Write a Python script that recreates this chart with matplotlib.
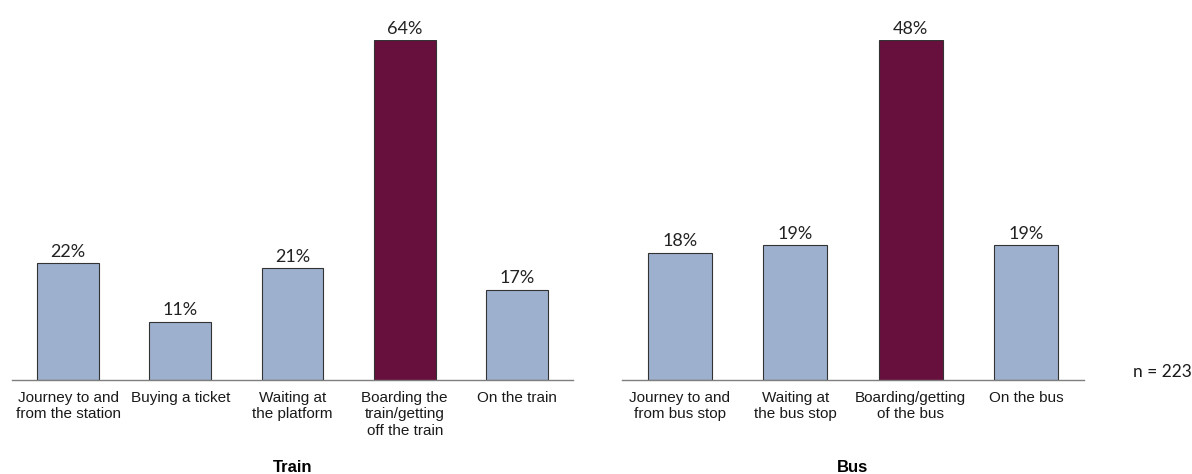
import matplotlib
matplotlib.use("Agg")
import matplotlib.pyplot as plt
from matplotlib import transforms

train_cats = ["Journey to and\nfrom the station", "Buying a ticket", "Waiting at\nthe platform",
              "Boarding the\ntrain/getting\noff the train", "On the train"]
train_vals = [22, 11, 21, 64, 17]
bus_cats = ["Journey to and\nfrom bus stop", "Waiting at\nthe bus stop", "Boarding/getting\nof the bus", "On the bus"]
bus_vals = [18, 19, 48, 19]
panel_titles = ["Train", "Bus"]
note = "n = 223"

BLUE = "#9DB0CD"
MAROON = "#67103D"

W, H = 1192, 474
fig = plt.figure(figsize=(W / 100, H / 100), dpi=100)

def px_axes(x0, x1, y_top, y_bot):
    return fig.add_axes([x0 / W, 1 - y_bot / H, (x1 - x0) / W, (y_bot - y_top) / H])

ax1 = px_axes(12, 573, 40, 380)
ax2 = px_axes(622, 1084, 40, 380)

for ax, cats, vals, title in [(ax1, train_cats, train_vals, panel_titles[0]),
                               (ax2, bus_cats, bus_vals, panel_titles[1])]:
    mx = max(vals)
    colors = [MAROON if v == mx else BLUE for v in vals]
    x = list(range(len(vals)))
    bars = ax.bar(x, vals, width=0.55, color=colors, edgecolor="#333333", linewidth=0.8, zorder=2)
    ax.set_xlim(-0.5, len(vals) - 0.5)
    ax.set_ylim(0, mx)
    for b, v in zip(bars, vals):
        ax.annotate(f"{v}%", (b.get_x() + b.get_width() / 2, v), xytext=(0, 2.5),
                    textcoords="offset points", ha="center", va="bottom",
                    fontsize=13, family="Lato", color="#222222", clip_on=False)
    ax.set_xticks(x)
    ax.set_xticklabels(cats, fontsize=11, family="Liberation Sans", color="#1a1a1a", linespacing=1.2)
    ax.tick_params(axis="x", length=0, pad=8)
    ax.set_yticks([])
    for s in ["top", "left", "right"]:
        ax.spines[s].set_visible(False)
    ax.spines["bottom"].set_color("#7f7f7f")
    ax.spines["bottom"].set_linewidth(1)
    tr = transforms.blended_transform_factory(ax.transAxes, fig.transFigure)
    ax.text(0.5, 1 - 467 / H, title, transform=tr, ha="center", va="center",
            fontsize=12, fontweight="bold", family="Liberation Sans", color="#000000")

fig.text(1133 / W, 1 - 372 / H, note, ha="left", va="center", fontsize=12.5, family="Lato", color="#1a1a1a")

fig.savefig("out.png", dpi=100, facecolor="white")
